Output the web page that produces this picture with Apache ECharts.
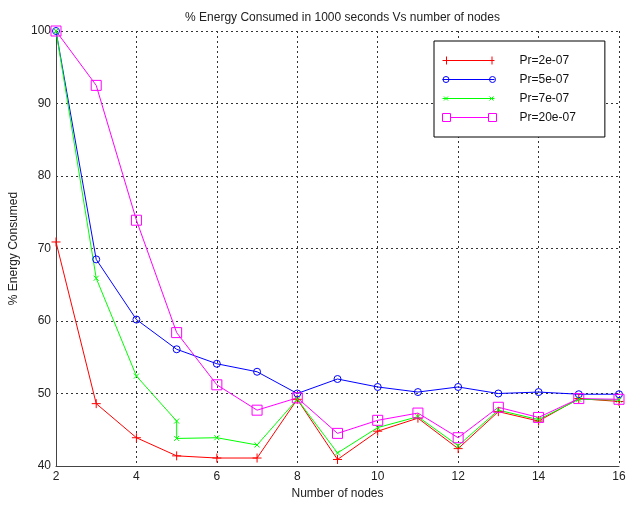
<!DOCTYPE html>
<html>
<head>
<meta charset="utf-8">
<script src="https://cdn.jsdelivr.net/npm/echarts@6/dist/echarts.min.js"></script>
<style>html,body{margin:0;padding:0;background:#fff;}#c{width:636px;height:505px;}</style>
</head>
<body>
<div id="c"></div>
<script>
var titleText = '% Energy Consumed in 1000 seconds Vs number of nodes';
var xName = 'Number of nodes';
var yName = '% Energy Consumed';
var seriesNames = ['Pr=2e-07', 'Pr=5e-07', 'Pr=7e-07', 'Pr=20e-07'];
var xNodes = [2, 3, 4, 5, 6, 7, 8, 9, 10, 11, 12, 13, 14, 15, 16];
var xNodesGreen = [2, 3, 4, 5, 5, 6, 7, 8, 9, 10, 11, 12, 13, 14, 15, 16];
var red = [70.9, 48.6, 43.9, 41.4, 41.1, 41.1, 49.2, 40.9, 44.8, 46.6, 42.4, 47.5, 46.2, 49.3, 48.9];
var blue = [100, 68.5, 60.2, 56.1, 54.1, 53.0, 50.0, 52.0, 50.9, 50.2, 50.9, 50.0, 50.2, 49.9, 49.9];
var green = [100, 65.9, 52.4, 46.2, 43.8, 43.9, 42.9, 49.2, 41.8, 45.3, 46.8, 42.8, 47.7, 46.4, 49.2, 49.1];
var magenta = [100, 92.5, 73.9, 58.4, 51.2, 47.7, 49.4, 44.5, 46.3, 47.3, 43.9, 48.1, 46.7, 49.3, 49.2];

function pairs(xs, ys) { return xs.map(function (x, i) { return [x, ys[i]]; }); }

var font = 'Liberation Sans, Arial, sans-serif';
var colors = ['#ff0000', '#0000ff', '#00ff00', '#ff00ff'];
var plusPath = 'path://M0,5L10,5M5,0L5,10';
var xPath = 'path://M0,0L10,10M10,0L0,10';

// legend glyphs: line with a marker at both ends (MATLAB style)
var legendIcons = [
  'path://M0,4L52,4M4,0L4,8M49.5,0L49.5,8M54,4L54,4',
  'path://M0,4L52,4M6.5,4A3,3,0,0,1,0.5,4A3,3,0,0,1,6.5,4M53,4A3,3,0,0,1,47,4A3,3,0,0,1,53,4M54,4L54,4',
  'path://M0,4L52,4M1.5,2L5.5,6M5.5,2L1.5,6M47,2L51,6M51,2L47,6M54,4L54,4',
  'path://M0,0L8,0L8,8L0,8ZM46,0L54,0L54,8L46,8ZM8,4L46,4'
];

function mk(name, data, color, symbol, size) {
  return {
    name: name, type: 'line', data: data, symbol: symbol, symbolSize: size,
    showAllSymbol: true,
    lineStyle: { color: color, width: 1 },
    itemStyle: { color: 'rgba(0,0,0,0)', borderColor: color, borderWidth: 1 },
    emphasis: { disabled: true },
    animation: false
  };
}

var chart = echarts.init(document.getElementById('c'), null, { renderer: 'canvas' });
chart.setOption({
  backgroundColor: '#fff',
  animation: false,
  title: { text: titleText, left: 337.5, textAlign: 'center', top: 7, textStyle: { fontFamily: font, fontSize: 12, fontWeight: 'normal', color: '#222' } },
  grid: { left: 56, right: 17, top: 31, bottom: 38 },
  legend: {
    orient: 'vertical', left: 434, top: 41,
    data: seriesNames.map(function (n, i) {
      return { name: n, icon: legendIcons[i], itemStyle: { color: 'rgba(0,0,0,0)', borderColor: colors[i], borderWidth: 1 } };
    }),
    itemWidth: 54, itemHeight: 13, itemGap: 6,
    symbolKeepAspect: true,
    padding: [13, 29, 13, 8],
    borderColor: '#000', borderWidth: 1, backgroundColor: '#fff',
    textStyle: { fontFamily: font, fontSize: 12, color: '#111', lineHeight: 13, padding: [0, 0, 0, 18] }
  },
  xAxis: {
    type: 'value', min: 2, max: 16, interval: 2,
    name: xName, nameLocation: 'middle', nameGap: 22,
    nameTextStyle: { fontFamily: font, fontSize: 12, color: '#222' },
    axisLine: { lineStyle: { color: '#444', width: 1 } },
    axisTick: { show: false },
    axisLabel: { fontFamily: font, fontSize: 12, color: '#222', margin: 5 },
    splitLine: { show: true, lineStyle: { color: '#333', type: [2, 3], width: 1 } }
  },
  yAxis: {
    type: 'value', min: 40, max: 100, interval: 10,
    name: yName, nameLocation: 'middle', nameGap: 28,
    nameTextStyle: { fontFamily: font, fontSize: 12, color: '#222' },
    axisLine: { show: true, lineStyle: { color: '#444', width: 1 } },
    axisTick: { show: false },
    axisLabel: { fontFamily: font, fontSize: 12, color: '#222', margin: 5 },
    splitLine: { show: true, lineStyle: { color: '#333', type: [2, 3], width: 1 } }
  },
  series: [
    mk(seriesNames[0], pairs(xNodes, red), colors[0], plusPath, 9),
    mk(seriesNames[1], pairs(xNodes, blue), colors[1], 'circle', 7),
    mk(seriesNames[2], pairs(xNodesGreen, green), colors[2], xPath, 5),
    mk(seriesNames[3], pairs(xNodes, magenta), colors[3], 'rect', 10)
  ]
});
</script>
</body>
</html>
